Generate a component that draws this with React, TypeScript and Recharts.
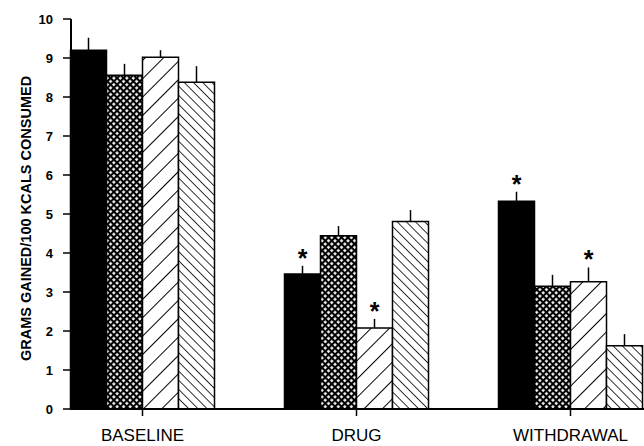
import { Bar, BarChart, ErrorBar, LabelList, XAxis, YAxis } from "recharts";

const groups = ["BASELINE", "DRUG", "WITHDRAWAL"];

// four treatment series (mean, upper SEM)
const solidMeans = [9.2, 3.46, 5.33];
const solidSem = [0.32, 0.21, 0.24];
const solidStars = ["", "*", "*"];

const checkMeans = [8.56, 4.44, 3.15];
const checkSem = [0.29, 0.25, 0.29];
const checkStars = ["", "", ""];

const fwdMeans = [9.02, 2.08, 3.26];
const fwdSem = [0.18, 0.23, 0.37];
const fwdStars = ["", "*", "*"];

const backMeans = [8.38, 4.81, 1.62];
const backSem = [0.41, 0.29, 0.3];
const backStars = ["", "", ""];

const yTicks = [0, 1, 2, 3, 4, 5, 6, 7, 8, 9, 10];

const data = groups.map((group, i) => ({
  group,
  solid: solidMeans[i],
  solidErr: [0, solidSem[i]],
  solidStar: solidStars[i],
  check: checkMeans[i],
  checkErr: [0, checkSem[i]],
  checkStar: checkStars[i],
  fwd: fwdMeans[i],
  fwdErr: [0, fwdSem[i]],
  fwdStar: fwdStars[i],
  back: backMeans[i],
  backErr: [0, backSem[i]],
  backStar: backStars[i],
}));

const font = "'Liberation Sans', Arial, sans-serif";

// asterisk sits just above the error bar; px/unit comes from the bar itself
function starLabel(meanKey: string, errKey: string) {
  return (props: any) => {
    const { index, value } = props;
    if (!value) return null;
    const vb = props.viewBox ?? props;
    const row: any = data[index];
    const pxPerUnit = vb.height / row[meanKey];
    const errTop = vb.y - row[errKey][1] * pxPerUnit;
    return (
      <text
        x={vb.x + vb.width / 2}
        y={errTop + 1}
        textAnchor="middle"
        fontSize={25}
        fontWeight="bold"
        fontFamily={font}
        fill="#000"
      >
        {value}
      </text>
    );
  };
}

const yLabel = () => (
  <text
    transform="translate(31,218.5) rotate(-90)"
    textAnchor="middle"
    fontSize={14.5}
    fontWeight="bold"
    fontFamily={font}
    fill="#000"
  >
    GRAMS GAINED/100 KCALS CONSUMED
  </text>
);

const series = [
  { key: "solid", fill: "#000" },
  { key: "check", fill: "url(#check)" },
  { key: "fwd", fill: "url(#fwd)" },
  { key: "back", fill: "url(#back)" },
];

export default function App() {
  return (
    <div style={{ position: "absolute", left: 0, top: 0, width: 644, height: 446, background: "#fff" }}>
      <svg width={0} height={0} style={{ position: "absolute" }}>
        <defs>
          <pattern id="check" width="4.6" height="4.6" patternUnits="userSpaceOnUse" patternTransform="rotate(45)">
            <rect width="4.6" height="4.6" fill="#000" />
            <rect x="1.1" y="1.1" width="2.5" height="2.5" fill="#fff" />
          </pattern>
          <pattern id="fwd" width="13" height="13" patternUnits="userSpaceOnUse" patternTransform="rotate(45)">
            <rect width="13" height="13" fill="#fff" />
            <line x1="0" y1="0" x2="0" y2="13" stroke="#000" strokeWidth={2} />
          </pattern>
          <pattern id="back" width="6.5" height="6.5" patternUnits="userSpaceOnUse" patternTransform="rotate(-45)">
            <rect width="6.5" height="6.5" fill="#fff" />
            <line x1="0" y1="0" x2="0" y2="6.5" stroke="#000" strokeWidth={1.6} />
          </pattern>
        </defs>
      </svg>
      <BarChart
        width={644}
        height={446}
        data={data}
        margin={{ top: 19, right: 0, bottom: 0, left: 0 }}
        barSize={36}
        barGap={0}
      >
        <XAxis
          dataKey="group"
          height={37}
          padding={{ left: -35.5, right: -33.5 }}
          axisLine={{ stroke: "#000", strokeWidth: 2 }}
          tickLine={{ stroke: "#000", strokeWidth: 1.5 }}
          tickSize={7}
          tickMargin={13}
          tick={{ fill: "#000", fontSize: 17, fontFamily: font }}
        />
        <YAxis
          type="number"
          domain={[0, 10]}
          ticks={yTicks}
          width={71}
          axisLine={{ stroke: "#000", strokeWidth: 2 }}
          tickLine={{ stroke: "#000", strokeWidth: 1.5 }}
          tickSize={8}
          tickMargin={10}
          tick={{ fill: "#000", fontSize: 13, fontWeight: "bold", fontFamily: font }}
          label={yLabel}
        />
        {series.map((s) => (
          <Bar
            key={s.key}
            dataKey={s.key}
            fill={s.fill}
            stroke="#000"
            strokeWidth={1.5}
            isAnimationActive={false}
          >
            <ErrorBar
              dataKey={`${s.key}Err`}
              direction="y"
              width={0}
              stroke="#000"
              strokeWidth={1.5}
              isAnimationActive={false}
            />
            <LabelList dataKey={`${s.key}Star`} content={starLabel(s.key, `${s.key}Err`)} />
          </Bar>
        ))}
      </BarChart>
    </div>
  );
}
